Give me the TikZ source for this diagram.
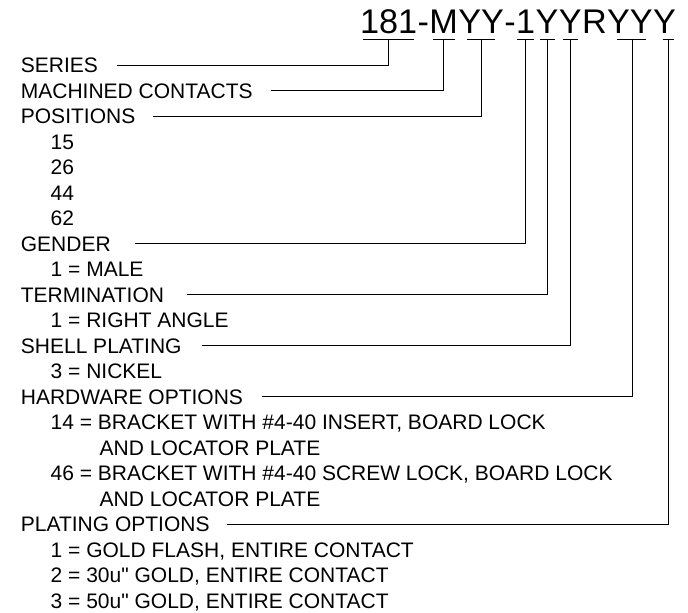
\documentclass[tikz,border=0pt]{standalone}
\usepackage{fontspec}
\setmainfont{Liberation Sans}[Ligatures=TeXOff]
\usetikzlibrary{positioning,calc}

\tikzset{
  ttl/.style={inner sep=0pt, anchor=base west, font=\fontsize{34.2}{40}\selectfont},
  hdr/.style={inner sep=0pt, anchor=base west, text height=15pt, text depth=0pt, font=\fontsize{21}{25}\selectfont},
  itm/.style={hdr},
  lead/.style={line width=0.8pt},
}

\begin{document}
\begin{tikzpicture}[x=1pt,y=-1pt]
\useasboundingbox (0,0) rectangle (688,613);
% part number
\node[ttl] (tser) at (360,33.5) {181};
\node[ttl] (d1) at (tser.base east) {-};
\node[ttl] (tmac) at (d1.base east) {M};
\node[ttl] (tpos) at (tmac.base east) {YY};
\node[ttl] (d2) at (tpos.base east) {-};
\node[ttl] (tgen) at (d2.base east) {1};
\node[ttl] (tter) at (tgen.base east) {Y};
\node[ttl] (tshl) at (tter.base east) {Y};
\node[ttl] (r) at (tshl.base east) {R};
\node[ttl] (thdw) at (r.base east) {YY};
\node[ttl] (tplt) at (thdw.base east) {Y};
% headings
\foreach \n/\r/\t in {ser/0/SERIES, mac/1/MACHINED CONTACTS, pos/2/POSITIONS, gen/7/GENDER,
  ter/9/TERMINATION, shl/11/SHELL PLATING, hdw/13/HARDWARE OPTIONS, plt/18/PLATING OPTIONS}
  \node[hdr] (\n) at (20.7,72.6+25.5*\r) {\t};
% choices
\foreach \r/\t in {3/15, 4/26, 5/44, 6/62, 8/1 = MALE, 10/1 = RIGHT ANGLE, 12/3 = NICKEL,
  14/{14 = BRACKET WITH \#4-40 INSERT, BOARD LOCK},
  16/{46 = BRACKET WITH \#4-40 SCREW LOCK, BOARD LOCK},
  19/{1 = GOLD FLASH, ENTIRE CONTACT}, 20/{2 = 30u" GOLD, ENTIRE CONTACT},
  21/{3 = 50u" GOLD, ENTIRE CONTACT}}
  \node[itm] (i\r) at (50.5,72.6+25.5*\r) {\t};
\node[itm] (c15) at (99.5,72.6+25.5*15) {AND LOCATOR PLATE};
\node[itm] (c17) at (99.5,72.6+25.5*17) {AND LOCATOR PLATE};
% leaders
\foreach \n/\w/\g/\dx in {ser/25.5/19/0, mac/11/18/0, pos/14/18/0, gen/8.5/24/0,
  ter/7.5/23/0.5, shl/7.5/20/0.5, hdw/14.5/19/2, plt/5.5/17/3.5} {
  \draw[lead] ($(t\n.base)+(\dx-\w,6)$) -- ($(t\n.base)+(\dx+\w,6)$);
  \draw[lead] ($(t\n.base)+(\dx,6)$) |- ([xshift=\g pt]\n.east);
}
\end{tikzpicture}
\end{document}
